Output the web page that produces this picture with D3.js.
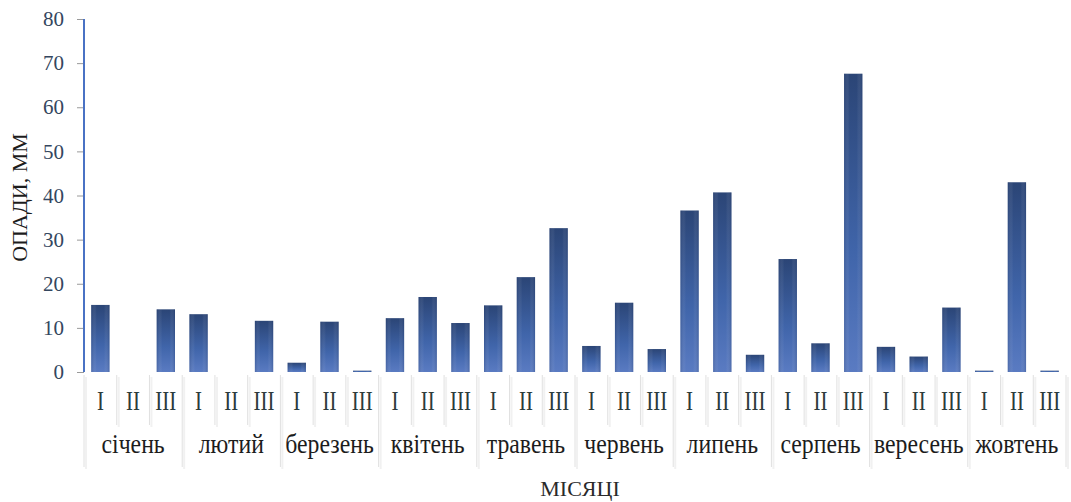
<!DOCTYPE html>
<html>
<head>
<meta charset="utf-8">
<script src="https://cdn.jsdelivr.net/npm/d3@7"></script>
<style>
  html, body { margin: 0; padding: 0; background: #ffffff; }
  svg { display: block; }
  text { font-family: "Liberation Serif", "DejaVu Serif", serif; }
</style>
</head>
<body>
<svg id="chart" width="1071" height="502"></svg>
<script>
// Precipitation by ten-day period (декада) for each month, mm
const months = ["січень", "лютий", "березень", "квітень", "травень",
                "червень", "липень", "серпень", "вересень", "жовтень"];
const decades = ["I", "II", "III"];
const decadeI   = [15.2, 13.1, 2.1, 12.2, 15.1, 5.9, 36.6, 25.6, 5.7, 0.3];
const decadeII  = [0.0, 0.0, 11.4, 17.0, 21.5, 15.7, 40.7, 6.5, 3.5, 43.0];
const decadeIII = [14.2, 11.6, 0.3, 11.1, 32.6, 5.2, 3.9, 67.6, 14.6, 0.3];
const yTicks = [0, 10, 20, 30, 40, 50, 60, 70, 80];
const yTitle = "ОПАДИ, ММ";
const xTitle = "МІСЯЦІ";

const series = [decadeI, decadeII, decadeIII];
const rows = [];
months.forEach((m, mi) => {
  decades.forEach((d, di) => {
    rows.push({ key: m + "|" + d, month: m, decade: d, value: series[di][mi] });
  });
});

const svg = d3.select("#chart");
const plot = { left: 84, right: 1066, top: 19, bottom: 372 };

const x = d3.scaleBand()
  .domain(rows.map(r => r.key))
  .range([plot.left, plot.right])
  .paddingInner(0.44)
  .paddingOuter(0.22);

const xMonth = d3.scaleBand()
  .domain(months)
  .range([plot.left, plot.right]);

const y = d3.scaleLinear()
  .domain([0, 80])
  .range([plot.bottom, plot.top]);

// Bar fill: dark navy at the top fading to a lighter blue
const defs = svg.append("defs");
const grad = defs.append("linearGradient")
  .attr("id", "barFill").attr("x1", 0).attr("y1", 0).attr("x2", 0).attr("y2", 1);
grad.append("stop").attr("offset", "0%").attr("stop-color", "#2b4576");
grad.append("stop").attr("offset", "60%").attr("stop-color", "#4065aa");
grad.append("stop").attr("offset", "100%").attr("stop-color", "#5a7bc2");

const side = defs.append("linearGradient")
  .attr("id", "barSide").attr("x1", 0).attr("y1", 0).attr("x2", 1).attr("y2", 0);
side.append("stop").attr("offset", "0%").attr("stop-color", "#1d3260").attr("stop-opacity", 0.25);
side.append("stop").attr("offset", "30%").attr("stop-color", "#ffffff").attr("stop-opacity", 0.0);
side.append("stop").attr("offset", "70%").attr("stop-color", "#ffffff").attr("stop-opacity", 0.0);
side.append("stop").attr("offset", "100%").attr("stop-color", "#1d3260").attr("stop-opacity", 0.25);

const soft = defs.append("filter").attr("id", "soft");
soft.append("feGaussianBlur").attr("stdDeviation", 0.45);

// Horizontal gridlines
const yAxis = d3.axisLeft(y)
  .tickValues(yTicks)
  .tickSize(-(plot.right - plot.left))
  .tickPadding(20)
  .tickFormat(d3.format("d"));

const gy = svg.append("g")
  .attr("transform", `translate(${plot.left},0)`)
  .call(yAxis);
gy.select(".domain").remove();
gy.selectAll(".tick line")
  .attr("stroke", "#d6d6d6")
  .attr("stroke-width", 1.6)
  .attr("filter", "url(#soft)");
gy.selectAll(".tick text")
  .attr("fill", "#34465e")
  .attr("font-size", 21)
  .attr("font-family", "Liberation Serif");

// Small outer tick marks left of the value axis
gy.selectAll(".tick").append("line")
  .attr("x1", -7).attr("x2", 0)
  .attr("stroke", "#9a9a9a").attr("stroke-width", 1);

// Value axis line
svg.append("line")
  .attr("x1", plot.left).attr("x2", plot.left)
  .attr("y1", y(80)).attr("y2", y(0))
  .attr("stroke", "#4a72c4").attr("stroke-width", 2);

// Bars
const bars = svg.append("g");
bars.selectAll("rect.bar")
  .data(rows.filter(r => r.value > 0))
  .join("rect")
  .attr("class", "bar")
  .attr("x", d => x(d.key))
  .attr("y", d => y(d.value))
  .attr("width", x.bandwidth())
  .attr("height", d => y(0) - y(d.value))
  .attr("fill", "url(#barFill)");
bars.selectAll("rect.side")
  .data(rows.filter(r => r.value > 0))
  .join("rect")
  .attr("class", "side")
  .attr("x", d => x(d.key))
  .attr("y", d => y(d.value))
  .attr("width", x.bandwidth())
  .attr("height", d => y(0) - y(d.value))
  .attr("fill", "url(#barSide)");

// Category axis: decade labels in the first row (slightly tall lettering)
const step = x.step();
const xAxis = d3.axisBottom(x)
  .tickSize(0)
  .tickPadding(0)
  .tickFormat(k => k.split("|")[1]);
const gx = svg.append("g")
  .attr("transform", `translate(0,${plot.bottom})`)
  .call(xAxis);
gx.select(".domain").remove();
gx.selectAll(".tick text")
  .attr("y", 0)
  .attr("dy", 0)
  .attr("transform", "translate(0,38) scale(1,1.3)")
  .attr("fill", "#2c3b3b")
  .attr("font-size", 21)
  .attr("font-family", "Liberation Serif");

// Cell borders of the category table
const cellTop = plot.bottom + 3;
const row1Bottom = plot.bottom + 53;
const row2Bottom = plot.bottom + 95;
const borders = svg.append("g");
const cellEdges = d3.range(rows.length + 1).map(i => plot.left + i * step);
borders.selectAll("line.shadow")
  .data(cellEdges)
  .join("line")
  .attr("class", "shadow")
  .attr("x1", d => d + 2).attr("x2", d => d + 2)
  .attr("y1", cellTop + 2)
  .attr("y2", (d, i) => (i % 3 === 0 ? row2Bottom : row1Bottom) + 2)
  .attr("stroke", "#f1f1f1").attr("stroke-width", 2);
borders.selectAll("line.edge")
  .data(cellEdges)
  .join("line")
  .attr("class", "edge")
  .attr("x1", d => d).attr("x2", d => d)
  .attr("y1", cellTop)
  .attr("y2", (d, i) => (i % 3 === 0 ? row2Bottom : row1Bottom))
  .attr("stroke", "#e0e0e0").attr("stroke-width", 1);

// Month labels in the second row
const gm = svg.append("g")
  .attr("transform", `translate(0,${plot.bottom})`)
  .call(d3.axisBottom(xMonth).tickSize(0).tickPadding(0));
gm.select(".domain").remove();
gm.selectAll(".tick text")
  .attr("y", 0)
  .attr("dy", 0)
  .attr("transform", "translate(0,81) scale(1.08,1.25)")
  .attr("fill", "#1c1c1c")
  .attr("font-size", 22)
  .attr("font-family", "Liberation Serif");

// Axis titles
svg.append("text")
  .attr("transform", `translate(27,${(plot.top + plot.bottom) / 2 + 2}) rotate(-90)`)
  .attr("text-anchor", "middle")
  .attr("fill", "#1c1c1c")
  .attr("font-size", 22)
  .text(yTitle);

svg.append("text")
  .attr("x", 580)
  .attr("y", 496)
  .attr("text-anchor", "middle")
  .attr("fill", "#2a2a2a")
  .attr("font-size", 22)
  .text(xTitle);
</script>
</body>
</html>
